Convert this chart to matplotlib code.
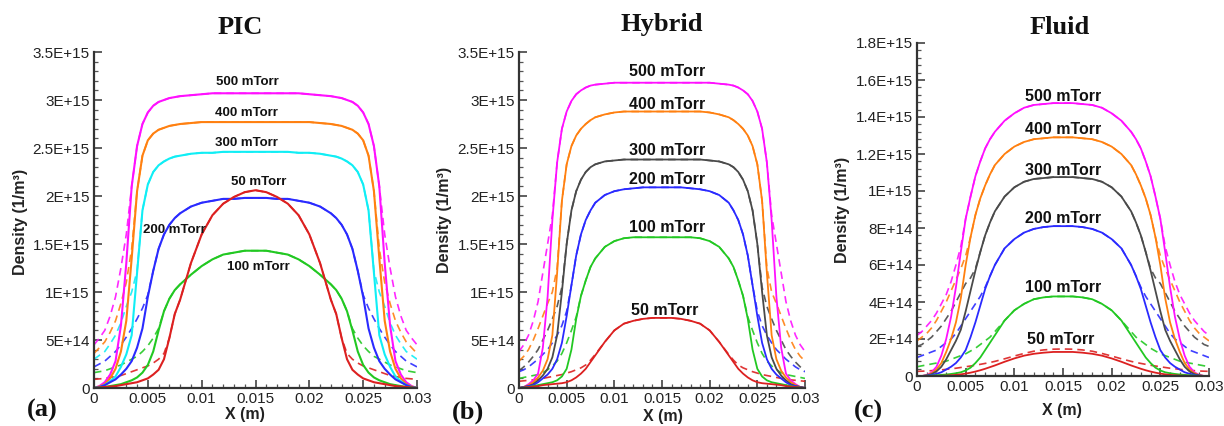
import matplotlib
matplotlib.use("Agg")
import matplotlib.pyplot as plt
from matplotlib.ticker import FixedLocator, FixedFormatter, MultipleLocator

# ---------------- data (density in units of 1E+15 1/m^3) ----------------
X_M = [0, 0.0005, 0.001, 0.0015, 0.002, 0.0025, 0.003, 0.0035, 0.004, 0.0045,
       0.005, 0.0055, 0.006, 0.0065, 0.007, 0.0075, 0.008, 0.009, 0.010, 0.011,
       0.012, 0.013, 0.014, 0.015, 0.016, 0.017, 0.018, 0.019, 0.020, 0.021,
       0.022, 0.0225, 0.023, 0.0235, 0.024, 0.0245, 0.025, 0.0255, 0.026, 0.0265,
       0.027, 0.0275, 0.028, 0.0285, 0.029, 0.0295, 0.030]

PRESSURES = ["500 mTorr", "400 mTorr", "300 mTorr", "200 mTorr", "100 mTorr", "50 mTorr"]

# PIC (solid) and comparison (dashed)
PIC_500 = [0, 0.02, 0.06, 0.14, 0.28, 0.65, 1.3, 2.1, 2.52, 2.75, 2.87, 2.94, 2.98, 3.0, 3.02, 3.03, 3.04, 3.05, 3.06, 3.07, 3.07, 3.07, 3.07, 3.07,
           3.07, 3.07, 3.07, 3.07, 3.06, 3.05, 3.04, 3.03, 3.02, 3.0, 2.98, 2.94, 2.87, 2.75, 2.52, 2.1, 1.3, 0.65, 0.28, 0.14, 0.06, 0.02, 0]
PIC_500_D = [0.45, 0.52, 0.6, 0.75, 0.95, 1.25, 1.6, 2.1, 2.52, 2.75, 2.87, 2.94, 2.98, 3.0, 3.02, 3.03, 3.04, 3.05, 3.06, 3.07, 3.07, 3.07, 3.07, 3.07,
             3.07, 3.07, 3.07, 3.07, 3.06, 3.05, 3.04, 3.03, 3.02, 3.0, 2.98, 2.94, 2.87, 2.75, 2.52, 2.1, 1.6, 1.25, 0.95, 0.75, 0.6, 0.52, 0.45]
PIC_400 = [0, 0.015, 0.04, 0.1, 0.2, 0.38, 0.7, 1.35, 2.05, 2.42, 2.58, 2.65, 2.69, 2.71, 2.73, 2.74, 2.75, 2.76, 2.77, 2.77, 2.77, 2.77, 2.77, 2.77,
           2.77, 2.77, 2.77, 2.77, 2.77, 2.76, 2.75, 2.74, 2.73, 2.71, 2.69, 2.65, 2.58, 2.42, 2.05, 1.35, 0.7, 0.38, 0.2, 0.1, 0.04, 0.015, 0]
PIC_400_D = [0.36, 0.42, 0.48, 0.58, 0.7, 0.88, 1.1, 1.45, 2.05, 2.42, 2.58, 2.65, 2.69, 2.71, 2.73, 2.74, 2.75, 2.76, 2.77, 2.77, 2.77, 2.77, 2.77, 2.77,
             2.77, 2.77, 2.77, 2.77, 2.77, 2.76, 2.75, 2.74, 2.73, 2.71, 2.69, 2.65, 2.58, 2.42, 2.05, 1.45, 1.1, 0.88, 0.7, 0.58, 0.48, 0.42, 0.36]
PIC_300 = [0, 0.01, 0.03, 0.07, 0.12, 0.22, 0.35, 0.55, 1.2, 1.85, 2.12, 2.25, 2.32, 2.36, 2.39, 2.41, 2.42, 2.44, 2.45, 2.45, 2.46, 2.46, 2.46, 2.46,
           2.46, 2.46, 2.46, 2.45, 2.45, 2.44, 2.42, 2.41, 2.39, 2.36, 2.32, 2.25, 2.12, 1.85, 1.2, 0.55, 0.35, 0.22, 0.12, 0.07, 0.03, 0.01, 0]
PIC_300_D = [0.3, 0.34, 0.38, 0.46, 0.55, 0.68, 0.85, 1.0, 1.22, 1.85, 2.12, 2.25, 2.32, 2.36, 2.39, 2.41, 2.42, 2.44, 2.45, 2.45, 2.46, 2.46, 2.46, 2.46,
             2.46, 2.46, 2.46, 2.45, 2.45, 2.44, 2.42, 2.41, 2.39, 2.36, 2.32, 2.25, 2.12, 1.85, 1.22, 1.0, 0.85, 0.68, 0.55, 0.46, 0.38, 0.34, 0.3]
PIC_200 = [0, 0.01, 0.03, 0.06, 0.09, 0.14, 0.2, 0.28, 0.42, 0.62, 0.95, 1.22, 1.45, 1.6, 1.7, 1.77, 1.82, 1.89, 1.93, 1.95, 1.97, 1.97, 1.98, 1.98,
           1.98, 1.97, 1.97, 1.95, 1.93, 1.89, 1.82, 1.77, 1.7, 1.6, 1.45, 1.22, 0.95, 0.62, 0.42, 0.28, 0.2, 0.14, 0.09, 0.06, 0.03, 0.01, 0]
PIC_200_D = [0.22, 0.25, 0.28, 0.33, 0.38, 0.45, 0.53, 0.62, 0.72, 0.83, 0.97, 1.22, 1.45, 1.6, 1.7, 1.77, 1.82, 1.89, 1.93, 1.95, 1.97, 1.97, 1.98, 1.98,
             1.98, 1.97, 1.97, 1.95, 1.93, 1.89, 1.82, 1.77, 1.7, 1.6, 1.45, 1.22, 0.97, 0.83, 0.72, 0.62, 0.53, 0.45, 0.38, 0.33, 0.28, 0.25, 0.22]
PIC_100 = [0, 0.005, 0.01, 0.02, 0.03, 0.04, 0.06, 0.08, 0.11, 0.16, 0.24, 0.38, 0.6, 0.8, 0.93, 1.02, 1.08, 1.18, 1.27, 1.34, 1.39, 1.41, 1.43, 1.43,
           1.43, 1.41, 1.39, 1.34, 1.27, 1.18, 1.08, 1.02, 0.93, 0.8, 0.6, 0.38, 0.24, 0.16, 0.11, 0.08, 0.06, 0.04, 0.03, 0.02, 0.01, 0.005, 0]
PIC_100_D = [0.16, 0.17, 0.18, 0.2, 0.22, 0.24, 0.27, 0.3, 0.33, 0.38, 0.44, 0.52, 0.62, 0.8, 0.93, 1.02, 1.08, 1.18, 1.27, 1.34, 1.39, 1.41, 1.43, 1.43,
             1.43, 1.41, 1.39, 1.34, 1.27, 1.18, 1.08, 1.02, 0.93, 0.8, 0.62, 0.52, 0.44, 0.38, 0.33, 0.3, 0.27, 0.24, 0.22, 0.2, 0.18, 0.17, 0.16]
PIC_50 = [0, 0.005, 0.01, 0.015, 0.02, 0.03, 0.04, 0.05, 0.06, 0.08, 0.1, 0.14, 0.19, 0.3, 0.52, 0.77, 0.92, 1.3, 1.6, 1.8, 1.92, 1.99, 2.04, 2.06,
          2.04, 1.99, 1.92, 1.8, 1.6, 1.3, 0.92, 0.77, 0.52, 0.3, 0.19, 0.14, 0.1, 0.08, 0.06, 0.05, 0.04, 0.03, 0.02, 0.015, 0.01, 0.005, 0]
PIC_50_D = [0.09, 0.095, 0.1, 0.11, 0.12, 0.13, 0.15, 0.17, 0.19, 0.21, 0.23, 0.26, 0.3, 0.36, 0.52, 0.77, 0.92, 1.3, 1.6, 1.8, 1.92, 1.99, 2.04, 2.06,
            2.04, 1.99, 1.92, 1.8, 1.6, 1.3, 0.92, 0.77, 0.52, 0.36, 0.3, 0.26, 0.23, 0.21, 0.19, 0.17, 0.15, 0.13, 0.12, 0.11, 0.1, 0.095, 0.09]

# Hybrid
HYB_500 = [0, 0.01, 0.04, 0.08, 0.15, 0.42, 0.95, 1.75, 2.35, 2.7, 2.88, 2.99, 3.06, 3.1, 3.13, 3.15, 3.16, 3.17, 3.18, 3.18, 3.18, 3.18, 3.18, 3.18,
           3.18, 3.18, 3.18, 3.18, 3.18, 3.17, 3.16, 3.15, 3.13, 3.1, 3.06, 2.99, 2.88, 2.7, 2.35, 1.75, 0.95, 0.42, 0.15, 0.08, 0.04, 0.01, 0]
HYB_500_D = [0.38, 0.45, 0.55, 0.7, 0.9, 1.2, 1.5, 1.8, 2.35, 2.7, 2.88, 2.99, 3.06, 3.1, 3.13, 3.15, 3.16, 3.17, 3.18, 3.18, 3.18, 3.18, 3.18, 3.18,
             3.18, 3.18, 3.18, 3.18, 3.18, 3.17, 3.16, 3.15, 3.13, 3.1, 3.06, 2.99, 2.88, 2.7, 2.35, 1.8, 1.5, 1.2, 0.9, 0.7, 0.55, 0.45, 0.38]
HYB_400 = [0, 0.01, 0.03, 0.06, 0.11, 0.18, 0.3, 0.55, 1.2, 1.95, 2.33, 2.52, 2.63, 2.7, 2.75, 2.79, 2.82, 2.85, 2.87, 2.88, 2.88, 2.88, 2.88, 2.88,
           2.88, 2.88, 2.88, 2.88, 2.87, 2.85, 2.82, 2.79, 2.75, 2.7, 2.63, 2.52, 2.33, 1.95, 1.2, 0.55, 0.3, 0.18, 0.11, 0.06, 0.03, 0.01, 0]
HYB_400_D = [0.28, 0.33, 0.4, 0.5, 0.62, 0.75, 0.88, 1.0, 1.25, 1.95, 2.33, 2.52, 2.63, 2.7, 2.75, 2.79, 2.82, 2.85, 2.87, 2.88, 2.88, 2.88, 2.88, 2.88,
             2.88, 2.88, 2.88, 2.88, 2.87, 2.85, 2.82, 2.79, 2.75, 2.7, 2.63, 2.52, 2.33, 1.95, 1.25, 1.0, 0.88, 0.75, 0.62, 0.5, 0.4, 0.33, 0.28]
HYB_300 = [0, 0.01, 0.02, 0.04, 0.08, 0.13, 0.2, 0.32, 0.55, 1.0, 1.5, 1.85, 2.05, 2.17, 2.25, 2.3, 2.33, 2.36, 2.37, 2.38, 2.38, 2.38, 2.38, 2.38,
           2.38, 2.38, 2.38, 2.38, 2.37, 2.36, 2.33, 2.3, 2.25, 2.17, 2.05, 1.85, 1.5, 1.0, 0.55, 0.32, 0.2, 0.13, 0.08, 0.04, 0.02, 0.01, 0]
HYB_300_D = [0.18, 0.22, 0.27, 0.33, 0.4, 0.5, 0.6, 0.72, 0.85, 1.05, 1.5, 1.85, 2.05, 2.17, 2.25, 2.3, 2.33, 2.36, 2.37, 2.38, 2.38, 2.38, 2.38, 2.38,
             2.38, 2.38, 2.38, 2.38, 2.37, 2.36, 2.33, 2.3, 2.25, 2.17, 2.05, 1.85, 1.5, 1.05, 0.85, 0.72, 0.6, 0.5, 0.4, 0.33, 0.27, 0.22, 0.18]
HYB_200 = [0, 0.01, 0.02, 0.03, 0.06, 0.1, 0.14, 0.2, 0.3, 0.47, 0.75, 1.07, 1.38, 1.6, 1.75, 1.85, 1.93, 2.01, 2.05, 2.07, 2.08, 2.09, 2.09, 2.09,
           2.09, 2.09, 2.08, 2.07, 2.05, 2.01, 1.93, 1.85, 1.75, 1.6, 1.38, 1.07, 0.75, 0.47, 0.3, 0.2, 0.14, 0.1, 0.06, 0.03, 0.02, 0.01, 0]
HYB_200_D = [0.17, 0.19, 0.22, 0.26, 0.3, 0.35, 0.4, 0.47, 0.55, 0.65, 0.8, 1.07, 1.38, 1.6, 1.75, 1.85, 1.93, 2.01, 2.05, 2.07, 2.08, 2.09, 2.09, 2.09,
             2.09, 2.09, 2.08, 2.07, 2.05, 2.01, 1.93, 1.85, 1.75, 1.6, 1.38, 1.07, 0.8, 0.65, 0.55, 0.47, 0.4, 0.35, 0.3, 0.26, 0.22, 0.19, 0.17]
HYB_100 = [0, 0.005, 0.01, 0.02, 0.03, 0.04, 0.05, 0.06, 0.08, 0.12, 0.2, 0.4, 0.72, 0.96, 1.12, 1.26, 1.35, 1.47, 1.53, 1.56, 1.57, 1.57, 1.57, 1.57,
           1.57, 1.57, 1.57, 1.56, 1.53, 1.47, 1.35, 1.26, 1.12, 0.96, 0.72, 0.4, 0.2, 0.12, 0.08, 0.06, 0.05, 0.04, 0.03, 0.02, 0.01, 0.005, 0]
HYB_100_D = [0.1, 0.11, 0.12, 0.13, 0.14, 0.16, 0.19, 0.23, 0.28, 0.36, 0.47, 0.6, 0.74, 0.96, 1.12, 1.26, 1.35, 1.47, 1.53, 1.56, 1.57, 1.57, 1.57, 1.57,
             1.57, 1.57, 1.57, 1.56, 1.53, 1.47, 1.35, 1.26, 1.12, 0.96, 0.74, 0.6, 0.47, 0.36, 0.28, 0.23, 0.19, 0.16, 0.14, 0.13, 0.12, 0.11, 0.1]
HYB_50 = [0, 0.005, 0.01, 0.015, 0.02, 0.03, 0.035, 0.04, 0.045, 0.05, 0.06, 0.08, 0.11, 0.15, 0.2, 0.27, 0.34, 0.48, 0.6, 0.67, 0.7, 0.72, 0.73, 0.73,
          0.73, 0.72, 0.7, 0.67, 0.6, 0.48, 0.34, 0.27, 0.2, 0.15, 0.11, 0.08, 0.06, 0.05, 0.045, 0.04, 0.035, 0.03, 0.02, 0.015, 0.01, 0.005, 0]
HYB_50_D = [0.07, 0.075, 0.08, 0.085, 0.09, 0.1, 0.11, 0.12, 0.13, 0.14, 0.155, 0.17, 0.19, 0.21, 0.24, 0.29, 0.35, 0.48, 0.6, 0.67, 0.7, 0.72, 0.73, 0.73,
            0.73, 0.72, 0.7, 0.67, 0.6, 0.48, 0.35, 0.29, 0.24, 0.21, 0.19, 0.17, 0.155, 0.14, 0.13, 0.12, 0.11, 0.1, 0.09, 0.085, 0.08, 0.075, 0.07]

# Fluid
FLU_500 = [0, 0.0, 0.005, 0.02, 0.05, 0.11, 0.2, 0.32, 0.48, 0.67, 0.85, 0.97, 1.08, 1.16, 1.23, 1.28, 1.32, 1.38, 1.42, 1.45, 1.465, 1.47, 1.475, 1.475,
           1.475, 1.47, 1.465, 1.45, 1.42, 1.38, 1.32, 1.28, 1.23, 1.16, 1.08, 0.97, 0.85, 0.67, 0.48, 0.32, 0.2, 0.11, 0.05, 0.02, 0.005, 0.0, 0]
FLU_500_D = [0.22, 0.24, 0.27, 0.3, 0.34, 0.39, 0.44, 0.51, 0.6, 0.7, 0.85, 0.97, 1.08, 1.16, 1.23, 1.28, 1.32, 1.38, 1.42, 1.45, 1.465, 1.47, 1.475, 1.475,
             1.475, 1.47, 1.465, 1.45, 1.42, 1.38, 1.32, 1.28, 1.23, 1.16, 1.08, 0.97, 0.85, 0.7, 0.6, 0.51, 0.44, 0.39, 0.34, 0.3, 0.27, 0.24, 0.22]
FLU_400 = [0, 0.0, 0.004, 0.015, 0.035, 0.07, 0.13, 0.2, 0.29, 0.42, 0.6, 0.75, 0.87, 0.96, 1.03, 1.09, 1.14, 1.2, 1.24, 1.265, 1.28, 1.285, 1.29, 1.29,
           1.29, 1.285, 1.28, 1.265, 1.24, 1.2, 1.14, 1.09, 1.03, 0.96, 0.87, 0.75, 0.6, 0.42, 0.29, 0.2, 0.13, 0.07, 0.035, 0.015, 0.004, 0.0, 0]
FLU_400_D = [0.19, 0.21, 0.23, 0.26, 0.3, 0.35, 0.4, 0.46, 0.52, 0.58, 0.65, 0.75, 0.87, 0.96, 1.03, 1.09, 1.14, 1.2, 1.24, 1.265, 1.28, 1.285, 1.29, 1.29,
             1.29, 1.285, 1.28, 1.265, 1.24, 1.2, 1.14, 1.09, 1.03, 0.96, 0.87, 0.75, 0.65, 0.58, 0.52, 0.46, 0.4, 0.35, 0.3, 0.26, 0.23, 0.21, 0.19]
FLU_300 = [0, 0.0, 0.003, 0.01, 0.025, 0.05, 0.09, 0.14, 0.19, 0.25, 0.35, 0.46, 0.57, 0.67, 0.76, 0.83, 0.89, 0.97, 1.02, 1.05, 1.065, 1.07, 1.075, 1.075,
           1.075, 1.07, 1.065, 1.05, 1.02, 0.97, 0.89, 0.83, 0.76, 0.67, 0.57, 0.46, 0.35, 0.25, 0.19, 0.14, 0.09, 0.05, 0.025, 0.01, 0.003, 0.0, 0]
FLU_300_D = [0.16, 0.17, 0.19, 0.21, 0.24, 0.27, 0.31, 0.35, 0.4, 0.45, 0.5, 0.53, 0.58, 0.67, 0.76, 0.83, 0.89, 0.97, 1.02, 1.05, 1.065, 1.07, 1.075, 1.075,
             1.075, 1.07, 1.065, 1.05, 1.02, 0.97, 0.89, 0.83, 0.76, 0.67, 0.58, 0.53, 0.5, 0.45, 0.4, 0.35, 0.31, 0.27, 0.24, 0.21, 0.19, 0.17, 0.16]
FLU_200 = [0, 0.0, 0.002, 0.006, 0.012, 0.02, 0.035, 0.05, 0.07, 0.1, 0.14, 0.21, 0.29, 0.38, 0.47, 0.54, 0.6, 0.69, 0.74, 0.775, 0.795, 0.805, 0.81, 0.81,
           0.81, 0.805, 0.795, 0.775, 0.74, 0.69, 0.6, 0.54, 0.47, 0.38, 0.29, 0.21, 0.14, 0.1, 0.07, 0.05, 0.035, 0.02, 0.012, 0.006, 0.002, 0.0, 0]
FLU_200_D = [0.1, 0.11, 0.12, 0.13, 0.14, 0.16, 0.18, 0.2, 0.23, 0.27, 0.31, 0.35, 0.39, 0.43, 0.48, 0.54, 0.6, 0.69, 0.74, 0.775, 0.795, 0.805, 0.81, 0.81,
             0.81, 0.805, 0.795, 0.775, 0.74, 0.69, 0.6, 0.54, 0.48, 0.43, 0.39, 0.35, 0.31, 0.27, 0.23, 0.2, 0.18, 0.16, 0.14, 0.13, 0.12, 0.11, 0.1]
FLU_100 = [0, 0.0, 0.001, 0.002, 0.004, 0.006, 0.008, 0.011, 0.015, 0.02, 0.03, 0.045, 0.07, 0.1, 0.14, 0.18, 0.22, 0.3, 0.355, 0.39, 0.415, 0.425, 0.43, 0.43,
           0.43, 0.425, 0.415, 0.39, 0.355, 0.3, 0.22, 0.18, 0.14, 0.1, 0.07, 0.045, 0.03, 0.02, 0.015, 0.011, 0.008, 0.006, 0.004, 0.002, 0.001, 0.0, 0]
FLU_100_D = [0.05, 0.055, 0.06, 0.065, 0.07, 0.075, 0.08, 0.09, 0.1, 0.11, 0.12, 0.135, 0.15, 0.17, 0.19, 0.21, 0.24, 0.3, 0.355, 0.39, 0.415, 0.425, 0.43, 0.43,
             0.43, 0.425, 0.415, 0.39, 0.355, 0.3, 0.24, 0.21, 0.19, 0.17, 0.15, 0.135, 0.12, 0.11, 0.1, 0.09, 0.08, 0.075, 0.07, 0.065, 0.06, 0.055, 0.05]
FLU_50 = [0, 0.0, 0.0, 0.0005, 0.001, 0.0015, 0.002, 0.004, 0.006, 0.009, 0.013, 0.018, 0.024, 0.031, 0.039, 0.048, 0.057, 0.077, 0.095, 0.11, 0.12, 0.126, 0.13, 0.13,
          0.13, 0.126, 0.12, 0.11, 0.095, 0.077, 0.057, 0.048, 0.039, 0.031, 0.024, 0.018, 0.013, 0.009, 0.006, 0.004, 0.002, 0.0015, 0.001, 0.0005, 0.0, 0.0, 0]
FLU_50_D = [0.025, 0.026, 0.027, 0.029, 0.031, 0.033, 0.036, 0.039, 0.042, 0.046, 0.05, 0.054, 0.058, 0.063, 0.068, 0.073, 0.079, 0.093, 0.108, 0.122, 0.134, 0.141, 0.145, 0.146,
            0.145, 0.141, 0.134, 0.122, 0.108, 0.093, 0.079, 0.073, 0.068, 0.063, 0.058, 0.054, 0.05, 0.046, 0.042, 0.039, 0.036, 0.033, 0.031, 0.029, 0.027, 0.026, 0.025]

X_TICKS = [0, 0.005, 0.01, 0.015, 0.02, 0.025, 0.03]
X_TICK_LABELS = ["0", "0.005", "0.01", "0.015", "0.02", "0.025", "0.03"]
Y_TICKS_35 = [0, 0.5, 1.0, 1.5, 2.0, 2.5, 3.0, 3.5]
Y_TICK_LABELS_35 = ["0", "5E+14", "1E+15", "1.5E+15", "2E+15", "2.5E+15", "3E+15", "3.5E+15"]
Y_TICKS_18 = [0, 0.2, 0.4, 0.6, 0.8, 1.0, 1.2, 1.4, 1.6, 1.8]
Y_TICK_LABELS_18 = ["0", "2E+14", "4E+14", "6E+14", "8E+14", "1E+15", "1.2E+15", "1.4E+15", "1.6E+15", "1.8E+15"]

PANEL_TITLES = ["PIC", "Hybrid", "Fluid"]
PANEL_TAGS = ["(a)", "(b)", "(c)"]

# ---------------- style ----------------
W, H = 1224, 426
C_MAG, C_ORG, C_CYN, C_BLU, C_GRN, C_RED, C_GRY = "#ff10ff", "#ff8010", "#10eef5", "#2a2aff", "#22c822", "#dc2020", "#4a4a4a"
SANS = ["Liberation Sans", "DejaVu Sans"]
SERIF = ["Liberation Serif", "DejaVu Serif"]

def fx(px):
    return px / W

def fy(py):
    return 1 - py / H

panels = [
    dict(box=(94, 52, 417, 388), ylim=3.5, yt=Y_TICKS_35, ytl=Y_TICK_LABELS_35, yminor=0.1,
         solid=[PIC_500, PIC_400, PIC_300, PIC_200, PIC_100, PIC_50],
         dash=[PIC_500_D, PIC_400_D, PIC_300_D, PIC_200_D, PIC_100_D, PIC_50_D],
         colors=[C_MAG, C_ORG, C_CYN, C_BLU, C_GRN, C_RED], lw=1.5, lab_fs=9.5,
         labpos=[(0.0142, 3.19), (0.0142, 2.86), (0.0142, 2.55), (0.0075, 1.65), (0.0153, 1.26), (0.0153, 2.15)],
         title_xy=(240, 27), tag_xy=(42, 410), ylab_xy=(21, 222), xlab_xy=(245, 414)),
    dict(box=(519, 52, 805, 388), ylim=3.5, yt=Y_TICKS_35, ytl=Y_TICK_LABELS_35, yminor=0.1,
         solid=[HYB_500, HYB_400, HYB_300, HYB_200, HYB_100, HYB_50],
         dash=[HYB_500_D, HYB_400_D, HYB_300_D, HYB_200_D, HYB_100_D, HYB_50_D],
         colors=[C_MAG, C_ORG, C_GRY, C_BLU, C_GRN, C_RED], lw=1.3, lab_fs=11.5,
         labpos=[(0.0155, 3.30), (0.0155, 2.95), (0.0155, 2.47), (0.0155, 2.17), (0.0155, 1.67), (0.0153, 0.81)],
         title_xy=(662, 25), tag_xy=(468, 412), ylab_xy=(445, 220), xlab_xy=(663, 417)),
    dict(box=(917, 43, 1209, 376), ylim=1.8, yt=Y_TICKS_18, ytl=Y_TICK_LABELS_18, yminor=0.04,
         solid=[FLU_500, FLU_400, FLU_300, FLU_200, FLU_100, FLU_50],
         dash=[FLU_500_D, FLU_400_D, FLU_300_D, FLU_200_D, FLU_100_D, FLU_50_D],
         colors=[C_MAG, C_ORG, C_GRY, C_BLU, C_GRN, C_RED], lw=1.3, lab_fs=11.5,
         labpos=[(0.0150, 1.51), (0.0150, 1.33), (0.0150, 1.11), (0.0150, 0.85), (0.0150, 0.48), (0.0148, 0.20)],
         title_xy=(1060, 27), tag_xy=(868, 411), ylab_xy=(843, 210), xlab_xy=(1062, 410)),
]

fig = plt.figure(figsize=(W / 100, H / 100), dpi=100)
fig.patch.set_facecolor("white")

for i, p in enumerate(panels):
    x0, y0, x1, y1 = p["box"]
    ax = fig.add_axes([fx(x0), fy(y1), fx(x1) - fx(x0), fy(y0) - fy(y1)])
    for s, d, c in zip(p["solid"], p["dash"], p["colors"]):
        assert len(s) == len(X_M) and len(d) == len(X_M)
        ax.plot(X_M, d, color=c, lw=1.2, ls=(0, (4.5, 3)), alpha=0.9)
    for s, c in zip(p["solid"], p["colors"]):
        ax.plot(X_M, s, color=c, lw=p["lw"])
    for name, (lx, ly) in zip(PRESSURES, p["labpos"]):
        ax.text(lx, ly, name, ha="center", va="center", fontsize=p["lab_fs"],
                fontweight="bold", family=SANS, color="#111111")
    ax.set_xlim(0, 0.03)
    ax.set_ylim(0, p["ylim"])
    ax.xaxis.set_major_locator(FixedLocator(X_TICKS))
    ax.xaxis.set_major_formatter(FixedFormatter(X_TICK_LABELS))
    ax.xaxis.set_minor_locator(MultipleLocator(0.001))
    ax.yaxis.set_major_locator(FixedLocator(p["yt"]))
    ax.yaxis.set_major_formatter(FixedFormatter(p["ytl"]))
    ax.yaxis.set_minor_locator(MultipleLocator(p["yminor"]))
    for side in ("top", "right"):
        ax.spines[side].set_visible(False)
    for side in ("left", "bottom"):
        ax.spines[side].set_linewidth(1.6)
        ax.spines[side].set_color("#333333")
    ax.tick_params(which="major", direction="in", length=6, width=1.1, color="#333333",
                   labelsize=11, pad=3, labelcolor="#222222")
    ax.tick_params(which="minor", direction="in", length=3, width=0.9, color="#555555")
    for lab in ax.get_xticklabels() + ax.get_yticklabels():
        lab.set_family(SANS)
    ax.set_facecolor("none")
    ax.patch.set_alpha(0)

    tx, ty = p["title_xy"]
    fig.text(fx(tx), fy(ty), PANEL_TITLES[i], ha="center", va="center", fontsize=19,
             fontweight="bold", family=SERIF, color="#111111")
    gx, gy = p["tag_xy"]
    fig.text(fx(gx), fy(gy), PANEL_TAGS[i], ha="center", va="center", fontsize=19,
             fontweight="bold", family=SERIF, color="#111111")
    lx, ly = p["ylab_xy"]
    fig.text(fx(lx), fy(ly), "Density (1/m³)", ha="center", va="center", rotation=90,
             fontsize=11.5, fontweight="bold", family=SANS, color="#222222")
    xx, xy = p["xlab_xy"]
    fig.text(fx(xx), fy(xy), "X (m)", ha="center", va="center", fontsize=11.5,
             fontweight="bold", family=SANS, color="#222222")

fig.savefig("out.png", dpi=100, facecolor="white")
